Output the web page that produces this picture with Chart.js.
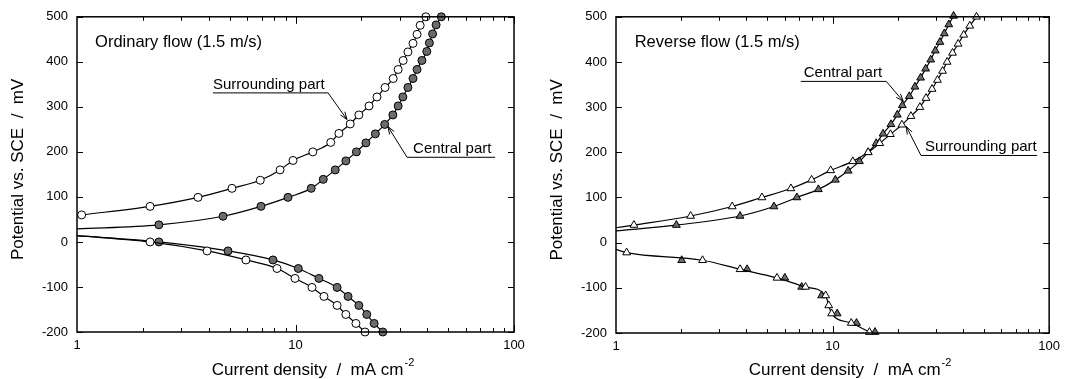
<!DOCTYPE html>
<html>
<head>
<meta charset="utf-8">
<script src="https://cdn.jsdelivr.net/npm/chart.js@4.4.0/dist/chart.umd.min.js"></script>
<style>
  html, body { margin: 0; padding: 0; background: #fff; }
  #wrap { position: relative; width: 1066px; height: 379px; }
  canvas { position: absolute; top: 0; }
  #ordinaryChart { left: 0; }
  #reverseChart { left: 533px; }
</style>
</head>
<body>
<div id="wrap">
  <canvas id="ordinaryChart" width="533" height="379"></canvas>
  <canvas id="reverseChart" width="533" height="379"></canvas>
</div>
<script>
// axis ticks
const xTickLabels = [1, 10, 100];
const yTickValues = [-200, -100, 0, 100, 200, 300, 400, 500];

// Ordinary flow - anodic branch (upper)
const ordSurrUpX = [1.05, 2.16, 3.58, 5.12, 6.9, 8.5, 9.74, 12.0, 14.5, 15.8, 17.8, 19.5, 21.7, 23.6, 25.7, 28.0, 29.5, 31.1, 32.7, 34.5, 36.0, 37.2, 39.5];
const ordSurrUpY = [60, 79, 99, 119, 137, 160, 181, 200, 221, 241, 262, 282, 302, 322, 343, 363, 383, 403, 422, 441, 461, 481, 500];
const ordCentUpX = [1, 2.37, 4.66, 6.95, 9.24, 11.8, 13.4, 15.2, 17.0, 19.0, 21.0, 23.2, 25.6, 27.9, 29.5, 31.0, 32.7, 34.5, 36.0, 37.9, 39.9, 41.0, 42.4, 44.0, 46.5];
const ordCentUpY = [29, 38, 57, 79, 99, 119, 139, 160, 180, 200, 220, 240, 261, 282, 302, 322, 343, 363, 383, 403, 423, 442, 462, 482, 500];
// Ordinary flow - cathodic branch (lower)
const ordSurrDnX = [1, 2.16, 3.94, 5.93, 8.23, 9.95, 11.9, 13.5, 15.5, 17.0, 18.9, 20.8];
const ordSurrDnY = [14, 0, -20, -40, -59, -81, -101, -121, -141, -161, -181, -200];
const ordCentDnX = [1, 2.37, 4.91, 7.89, 10.3, 12.8, 15.5, 17.4, 19.5, 21.2, 22.9, 25.1];
const ordCentDnY = [14, 0, -20, -40, -59, -81, -101, -121, -141, -161, -181, -200];

// Reverse flow - anodic branch
const revSurrUpX = [1, 1.21, 2.21, 3.44, 4.72, 6.42, 8.0, 9.8, 12.4, 14.6, 16.5, 18.5, 20.9, 23.0, 25.3, 27.0, 28.8, 30.5, 32.2, 33.8, 35.8, 38.0, 40.3, 43.0, 46.2];
const revSurrUpY = [33, 39, 59, 80, 100, 120, 139, 160, 180, 200, 220, 240, 261, 280, 300, 320, 340, 360, 380, 400, 420, 440, 460, 480, 500];
const revCentUpX = [1, 1.90, 3.74, 5.36, 6.84, 8.6, 10.3, 11.8, 13.3, 14.6, 15.9, 17.1, 18.6, 19.9, 21.0, 22.6, 24.0, 25.5, 26.9, 28.4, 29.8, 31.3, 32.8, 34.4, 36.2];
const revCentUpY = [26, 39, 59, 80, 100, 118, 139, 159, 180, 200, 220, 241, 262, 283, 304, 324, 345, 365, 385, 405, 425, 444, 463, 483, 502];
// Reverse flow - cathodic branch (one fitted line through both)
const revSurrDnX = [1, 1.12, 2.51, 3.74, 5.54, 7.5, 9.29, 9.6, 9.9, 12.2, 14.8];
const revSurrDnY = [-15, -22, -39, -59, -78, -98, -117, -139, -157, -178, -198];
const revCentDnX = [2.01, 4.03, 6.02, 7.2, 8.9, 10.5, 12.9, 15.7];
const revCentDnY = [-39, -59, -78, -98, -117, -157, -178, -198];

const FONT = "'Liberation Sans', Arial, sans-serif";
const GREY = '#6b6b6b';

function pts(xs, ys) {
  return xs.map((v, i) => ({ x: v, y: ys[i] }));
}

function series(xs, ys, style, filled, hideFirst, showLine = true) {
  const r = style === 'triangle' ? 4.5 : 4;
  return {
    data: pts(xs, ys),
    showLine: showLine,
    borderColor: '#000',
    borderWidth: 1.2,
    pointStyle: style,
    pointRadius: xs.map((v, i) => (hideFirst && i === 0) ? 0 : r),
    pointBackgroundColor: filled ? GREY : '#fff',
    pointBorderColor: '#000',
    pointBorderWidth: 1,
    cubicInterpolationMode: 'monotone',
    clip: false
  };
}

// box, inward ticks, titles and labels with leader arrows
const frame = {
  id: 'frame',
  afterDraw(chart) {
    const { ctx, chartArea: a, scales: { x, y } } = chart;
    const o = chart.options.plugins.frame;
    ctx.save();
    ctx.strokeStyle = '#000';
    ctx.lineWidth = 1.5;
    ctx.strokeRect(a.left, a.top, a.right - a.left, a.bottom - a.top);

    ctx.lineWidth = 1;
    ctx.beginPath();
    yTickValues.forEach(v => {
      const py = Math.round(y.getPixelForValue(v)) + 0.5;
      ctx.moveTo(a.left, py); ctx.lineTo(a.left + 6, py);
      ctx.moveTo(a.right, py); ctx.lineTo(a.right - 6, py);
    });
    for (let d = 1; d < 100; d *= 10) {
      for (let k = 2; k <= 10; k++) {
        const len = k === 10 ? 7 : 4;
        const px = Math.round(x.getPixelForValue(d * k)) + 0.5;
        ctx.moveTo(px, a.bottom); ctx.lineTo(px, a.bottom - len);
        ctx.moveTo(px, a.top); ctx.lineTo(px, a.top + len);
      }
    }
    ctx.stroke();

    ctx.fillStyle = '#000';
    // panel title
    ctx.font = '16.5px ' + FONT;
    ctx.textAlign = 'left';
    ctx.textBaseline = 'middle';
    ctx.fillText(o.title, x.getPixelForValue(o.titleAt[0]), y.getPixelForValue(o.titleAt[1]));

    // part labels
    ctx.font = '15px ' + FONT;
    ctx.textBaseline = 'alphabetic';
    o.labels.forEach(l => {
      const x0 = x.getPixelForValue(l.line[0]);
      const x1 = x.getPixelForValue(l.line[1]);
      const ly = y.getPixelForValue(l.line[2]);
      ctx.fillText(l.text, x0 + l.pad, ly - 4);
      const sx = l.from === 'end' ? x1 : x0;
      const tx = x.getPixelForValue(l.tip[0]);
      const ty = y.getPixelForValue(l.tip[1]);
      ctx.beginPath();
      ctx.moveTo(x0, ly); ctx.lineTo(x1, ly);
      ctx.moveTo(sx, ly); ctx.lineTo(tx, ty);
      const ang = Math.atan2(ty - ly, tx - sx);
      for (const s of [-1, 1]) {
        ctx.moveTo(tx, ty);
        ctx.lineTo(tx - 8 * Math.cos(ang + s * 0.35), ty - 8 * Math.sin(ang + s * 0.35));
      }
      ctx.stroke();
    });

    // axis titles
    ctx.font = '17px ' + FONT;
    const main = 'Current density  /  mA cm';
    const w1 = ctx.measureText(main).width;
    ctx.font = '11px ' + FONT;
    const w2 = ctx.measureText('-2').width;
    const start = (a.left + a.right) / 2 + 17 - (w1 + w2) / 2;
    ctx.font = '17px ' + FONT;
    ctx.fillText(main, start, 375);
    ctx.font = '11px ' + FONT;
    ctx.fillText('-2', start + w1 + 1, 366);

    ctx.font = '17px ' + FONT;
    ctx.translate(o.yTitleX, (a.top + a.bottom) / 2 - 5);
    ctx.rotate(-Math.PI / 2);
    ctx.textAlign = 'center';
    ctx.textBaseline = 'middle';
    ctx.fillText('Potential vs. SCE  /  mV', 0, 0);
    ctx.restore();
  }
};

function makeChart(id, datasets, cfg) {
  return new Chart(document.getElementById(id), {
    type: 'scatter',
    data: { datasets: datasets },
    options: {
      responsive: false,
      animation: false,
      layout: { padding: { left: 0, top: cfg.top, right: cfg.right, bottom: 0 } },
      plugins: {
        legend: { display: false },
        tooltip: { enabled: false },
        frame: cfg.frame
      },
      scales: {
        x: {
          type: 'logarithmic',
          min: 1,
          max: 100,
          grid: { display: false, drawTicks: false },
          border: { display: false },
          afterBuildTicks: s => { s.ticks = xTickLabels.map(v => ({ value: v })); },
          ticks: {
            color: '#000', font: { family: FONT, size: 13 }, padding: 6,
            maxRotation: 0, autoSkip: false, callback: v => String(v)
          },
          afterFit: s => { s.height = cfg.xHeight; }
        },
        y: {
          min: -200,
          max: 500,
          grid: { display: false, drawTicks: false },
          border: { display: false },
          afterBuildTicks: s => { s.ticks = yTickValues.map(v => ({ value: v })); },
          ticks: { color: '#000', font: { family: FONT, size: 13 }, padding: 9 },
          afterFit: s => { s.width = cfg.yWidth; }
        }
      }
    },
    plugins: [frame]
  });
}

makeChart('ordinaryChart', [
  series(ordSurrUpX, ordSurrUpY, 'circle', false, false),
  series(ordCentUpX, ordCentUpY, 'circle', true, true),
  series(ordSurrDnX, ordSurrDnY, 'circle', false, true),
  series(ordCentDnX, ordCentDnY, 'circle', true, true)
], {
  top: 15, right: 19, xHeight: 47, yWidth: 77,
  frame: {
    title: 'Ordinary flow (1.5 m/s)', titleAt: [1.21, 444], yTitleX: 18,
    labels: [
      { text: 'Surrounding part', line: [4.19, 14.1, 331], tip: [17.2, 272], from: 'end', pad: 0 },
      { text: 'Central part', line: [32.4, 82, 188], tip: [26.5, 256], from: 'start', pad: 6 }
    ]
  }
});

makeChart('reverseChart', [
  series(revSurrUpX, revSurrUpY, 'triangle', false, true),
  series(revCentUpX, revCentUpY, 'triangle', true, true),
  series(revSurrDnX, revSurrDnY, 'triangle', false, true),
  series(revCentDnX, revCentDnY, 'triangle', true, false, false)
], {
  top: 11, right: 14, xHeight: 46, yWidth: 83,
  frame: {
    title: 'Reverse flow (1.5 m/s)', titleAt: [1.22, 443], yTitleX: 24,
    labels: [
      { text: 'Central part', line: [7.13, 17.7, 357], tip: [21.2, 313], from: 'end', pad: 3 },
      { text: 'Surrounding part', line: [25.6, 88, 193], tip: [21.9, 257], from: 'start', pad: 4 }
    ]
  }
});
</script>
</body>
</html>
